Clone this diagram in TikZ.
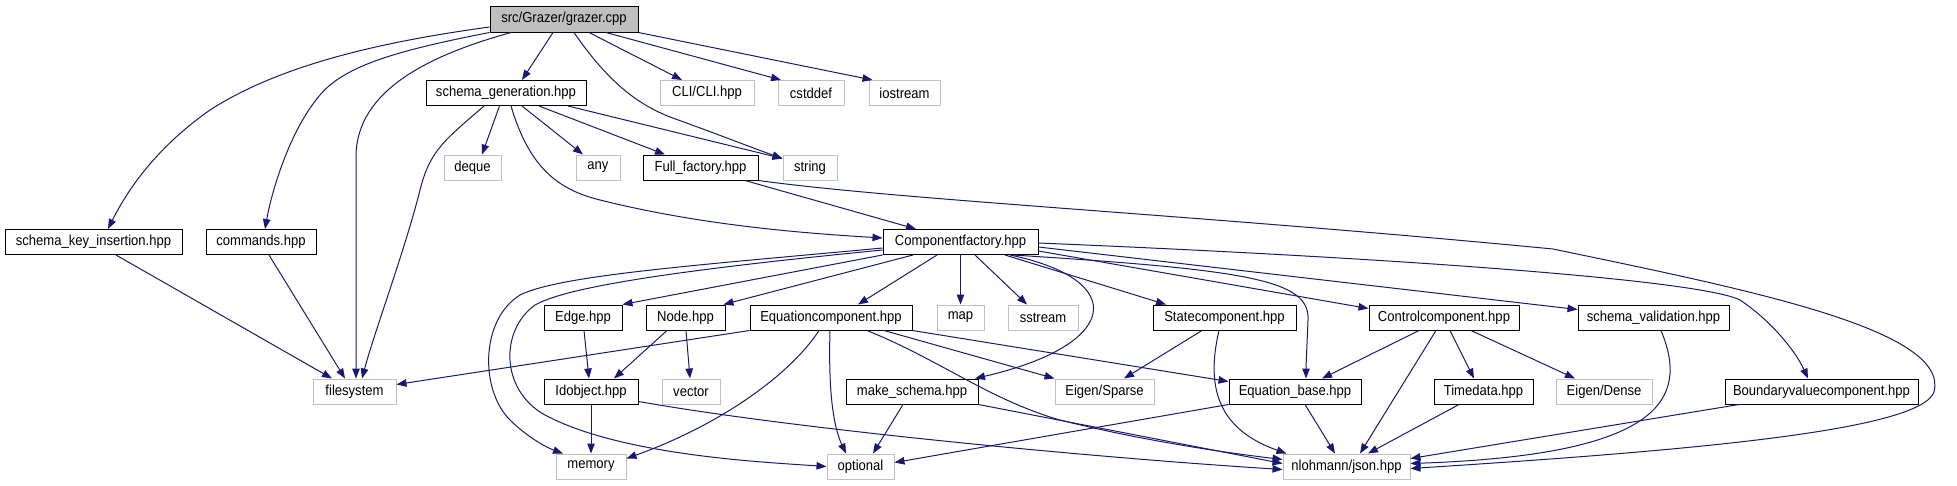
\documentclass[tikz,border=0pt]{standalone}
\usepackage{fontspec}
\setmainfont{Liberation Sans}[FakeStretch=0.9]
\usetikzlibrary{arrows.meta}
\definecolor{edgeblue}{HTML}{191970}
\definecolor{greyline}{HTML}{BFBFBF}
\begin{document}
\begin{tikzpicture}[x=1pt,y=-1pt,
  hbox/.style={draw=black, line width=1pt, rectangle, inner sep=0pt, minimum height=25pt, font=\fontsize{14.5}{16}\selectfont},
  gbox/.style={hbox, draw=greyline},
  rbox/.style={hbox, fill=greyline},
  lnk/.style={draw=edgeblue, line width=1pt, -{Triangle[length=10pt,width=7.5pt]}}]
\useasboundingbox (0,0) rectangle (1957,485);
% row 1
\node[rbox, minimum width=148pt, minimum height=26pt] (grazer) at (564,19) {src/Grazer/grazer.cpp};
% row 2
\node[hbox, minimum width=160pt] (sgen) at (506,93) {schema\_generation.hpp};
\node[gbox, minimum width=94pt] (cli) at (707,93) {CLI/CLI.hpp};
\node[gbox, minimum width=66pt] (cstddef) at (811,93) {cstddef};
\node[gbox, minimum width=71pt] (iostream) at (904.5,93) {iostream};
% row 3
\node[gbox, minimum width=57pt] (deque) at (472.5,167.5) {deque};
\node[gbox, minimum width=44pt] (any) at (598,167.5) {any};
\node[hbox, minimum width=115pt] (full) at (700.5,167.5) {Full\_factory.hpp};
\node[gbox, minimum width=54pt] (string) at (810,167.5) {string};
% row 4
\node[hbox, minimum width=177pt] (ski) at (93.5,242) {schema\_key\_insertion.hpp};
\node[hbox, minimum width=110pt] (cmds) at (261,242) {commands.hpp};
\node[hbox, minimum width=155pt] (cf) at (960.5,242) {Componentfactory.hpp};
% row 5
\node[hbox, minimum width=78pt] (edge) at (583,317.5) {Edge.hpp};
\node[hbox, minimum width=79pt] (node) at (685.5,317.5) {Node.hpp};
\node[hbox, minimum width=162pt] (eqc) at (831,317.5) {Equationcomponent.hpp};
\node[gbox, minimum width=47pt] (map) at (960.5,317.5) {map};
\node[gbox, minimum width=70pt] (sstream) at (1043,317.5) {sstream};
\node[hbox, minimum width=143pt] (state) at (1224.5,317.5) {Statecomponent.hpp};
\node[hbox, minimum width=150pt] (ctrl) at (1444,317.5) {Controlcomponent.hpp};
\node[hbox, minimum width=151pt] (sval) at (1653.5,317.5) {schema\_validation.hpp};
% row 6
\node[gbox, minimum width=83pt] (filesystem) at (354.5,391.5) {filesystem};
\node[hbox, minimum width=94pt] (ldo) at (591,391.5) {Idobject.hpp};
\node[gbox, minimum width=58pt] (vector) at (691,391.5) {vector};
\node[hbox, minimum width=132pt] (mks) at (912,391.5) {make\_schema.hpp};
\node[gbox, minimum width=99pt] (sparse) at (1104.5,391.5) {Eigen/Sparse};
\node[hbox, minimum width=132pt] (eqb) at (1295,391.5) {Equation\_base.hpp};
\node[hbox, minimum width=99pt] (time) at (1483.5,391.5) {Timedata.hpp};
\node[gbox, minimum width=96pt] (dense) at (1604,391.5) {Eigen/Dense};
\node[hbox, minimum width=193pt] (bvc) at (1821.5,391.5) {Boundaryvaluecomponent.hpp};
% row 7
\node[gbox, minimum width=70pt] (memory) at (591,466.5) {memory};
\node[gbox, minimum width=67pt] (optional) at (860.5,466.5) {optional};
\node[gbox, minimum width=127pt] (json) at (1346.5,466.5) {nlohmann/json.hpp};

% grazer.cpp
\draw[lnk] ([yshift=-8pt]grazer.west) .. controls (380,42) and (280,65) .. (210,110) .. controls (160,145) and (130,185) .. ([xshift=14.5pt]ski.north);
\draw[lnk] (grazer.south west) .. controls (400,50) and (345,65) .. (320,95) .. controls (290,130) and (272,190) .. ([xshift=4pt]cmds.north);
\draw[lnk] ([xshift=-53pt]grazer.south) .. controls (430,55) and (356,90) .. (356,157) -- ([xshift=1.5pt]filesystem.north);
\draw[lnk] ([xshift=-11pt]grazer.south) -- ([xshift=16pt]sgen.north);
\draw[lnk] ([xshift=10pt]grazer.south) .. controls (610,85) and (640,105) .. (670,117) .. controls (720,135) and (750,147) .. ([yshift=9pt]string.west);
\draw[lnk] ([xshift=25pt]grazer.south) -- ([xshift=-25pt]cli.north);
\draw[lnk] ([xshift=42pt]grazer.south) -- ([xshift=-30pt]cstddef.north);
\draw[lnk] (grazer.south east) -- ([xshift=-32pt]iostream.north);

% schema_generation
\draw[lnk] ([xshift=-22pt]sgen.south) .. controls (445,140) and (430,150) .. (420,190) .. controls (405,250) and (375,330) .. ([xshift=7.5pt]filesystem.north);
\draw[lnk] ([xshift=-6.5pt]sgen.south) -- ([xshift=9.5pt]deque.north);
\draw[lnk] ([xshift=5pt]sgen.south) .. controls (530,170) and (560,190) .. (600,200) .. controls (700,225) and (800,233) .. ([yshift=4pt]cf.west);
\draw[lnk] ([xshift=16pt]sgen.south) -- ([xshift=-15pt]any.north);
\draw[lnk] ([xshift=33pt]sgen.south) -- ([xshift=-35.5pt]full.north);
\draw[lnk] ([xshift=62pt]sgen.south) -- ([yshift=9pt]string.west);

% Full_factory
\draw[lnk] ([xshift=44.5pt]full.south) -- ([xshift=-44.5pt]cf.north);
\draw[lnk] (full.south east) .. controls (900,200) and (1200,215) .. (1553,249) .. controls (1750,290) and (1950,330) .. (1934,392) .. controls (1920,430) and (1700,450) .. ([yshift=-2pt]json.east);

% schema_key_insertion, commands
\draw[lnk] ([xshift=22.5pt]ski.south) -- ([xshift=-22.5pt]filesystem.north);
\draw[lnk] ([xshift=8pt]cmds.south) -- ([xshift=-9.5pt]filesystem.north);

% Componentfactory
\draw[lnk] ([yshift=-6pt]cf.west) .. controls (700,265) and (560,275) .. (520,295) .. controls (480,320) and (480,390) .. (510,420) .. controls (525,435) and (545,447) .. ([xshift=-28pt]memory.north);
\draw[lnk] ([yshift=-8pt]cf.west) .. controls (700,268) and (570,285) .. (535,305) .. controls (500,330) and (500,390) .. (545,415) .. controls (620,455) and (760,462) .. (optional.west);
\draw[lnk] (cf.south west) -- (edge.north east);
\draw[lnk] ([xshift=-47.5pt]cf.south) -- ([xshift=-2pt]node.north east);
\draw[lnk] ([xshift=-23.5pt]cf.south) -- ([xshift=27pt]eqc.north);
\draw[lnk] (cf.south) -- (map.north);
\draw[lnk] ([xshift=14.5pt]cf.south) -- ([xshift=-16pt]sstream.north);
\draw[lnk] ([xshift=49.5pt]cf.south) .. controls (1130,280) and (1120,345) .. ([xshift=63pt]mks.north);
\draw[lnk] ([xshift=44.5pt]cf.south) -- ([xshift=-58.5pt]state.north);
\draw[lnk] ([xshift=52.5pt]cf.south) .. controls (1250,270) and (1310,280) .. (1308,320) .. controls (1307,345) and (1306,365) .. ([xshift=11pt]eqb.north);
\draw[lnk] ([yshift=-9pt]cf.east) -- ([yshift=9pt]ctrl.west);
\draw[lnk] ([yshift=-5pt]cf.east) -- ([yshift=8pt]sval.west);
\draw[lnk] ([yshift=-1pt]cf.east) .. controls (1400,258) and (1700,280) .. (1740,300) .. controls (1770,320) and (1795,350) .. ([xshift=-13.5pt]bvc.north);

% Edge, Node, Idobject
\draw[lnk] ([xshift=1pt]edge.south) -- ([xshift=-2pt]ldo.north);
\draw[lnk] ([xshift=-18.5pt]node.south) -- ([xshift=23pt]ldo.north);
\draw[lnk] ([xshift=0.5pt]node.south) -- ([xshift=-1pt]vector.north);
\draw[lnk] (ldo.south) -- (memory.north);
\draw[lnk] ([yshift=-10pt]ldo.east) .. controls (800,430) and (1100,458) .. ([yshift=-3pt]json.west);

% Equationcomponent
\draw[lnk] (eqc.south west) -- ([yshift=7pt]filesystem.east);
\draw[lnk] ([xshift=-12pt]eqc.south) .. controls (790,375) and (720,425) .. ([yshift=8pt]memory.east);
\draw[lnk] ([xshift=-1pt]eqc.south) .. controls (828,400) and (835,430) .. ([xshift=-14.5pt]optional.north);
\draw[lnk] ([xshift=36pt]eqc.south) .. controls (940,360) and (990,400) .. (1060,420) .. controls (1140,440) and (1220,452) .. ([yshift=7pt]json.west);
\draw[lnk] ([xshift=53pt]eqc.south) -- (sparse.north west);
\draw[lnk] (eqc.south east) -- ([yshift=10pt]eqb.west);

% make_schema
\draw[lnk] ([xshift=-9pt]mks.south) -- ([xshift=12.5pt]optional.north);
\draw[lnk] (mks.south east) -- ([yshift=3pt]json.west);

% Statecomponent
\draw[lnk] ([xshift=-22.5pt]state.south) -- ([xshift=19.5pt]sparse.north);
\draw[lnk] ([xshift=-5.5pt]state.south) .. controls (1205,390) and (1220,430) .. ([xshift=-60pt]json.north);

% Controlcomponent
\draw[lnk] ([xshift=-25pt]ctrl.south) -- ([xshift=27pt]eqb.north);
\draw[lnk] ([xshift=-8pt]ctrl.south) -- ([xshift=13.5pt]json.north);
\draw[lnk] ([xshift=6pt]ctrl.south) -- ([xshift=-9.5pt]time.north);
\draw[lnk] ([xshift=27pt]ctrl.south) -- ([xshift=-29pt]dense.north);

% Equation_base, Timedata, schema_validation, Boundaryvaluecomponent
\draw[lnk] ([xshift=10pt]eqb.south) -- ([xshift=-11.5pt]json.north);
\draw[lnk] (eqb.south west) -- ([yshift=4pt]optional.east);
\draw[lnk] ([xshift=-24.5pt]time.south) -- ([xshift=21.5pt]json.north);
\draw[lnk] ([xshift=7.5pt]sval.south) .. controls (1690,400) and (1660,455) .. ([yshift=3pt]json.east);
\draw[lnk] ([xshift=-82.5pt]bvc.south) -- ([yshift=8pt]json.east);
\end{tikzpicture}
\end{document}
